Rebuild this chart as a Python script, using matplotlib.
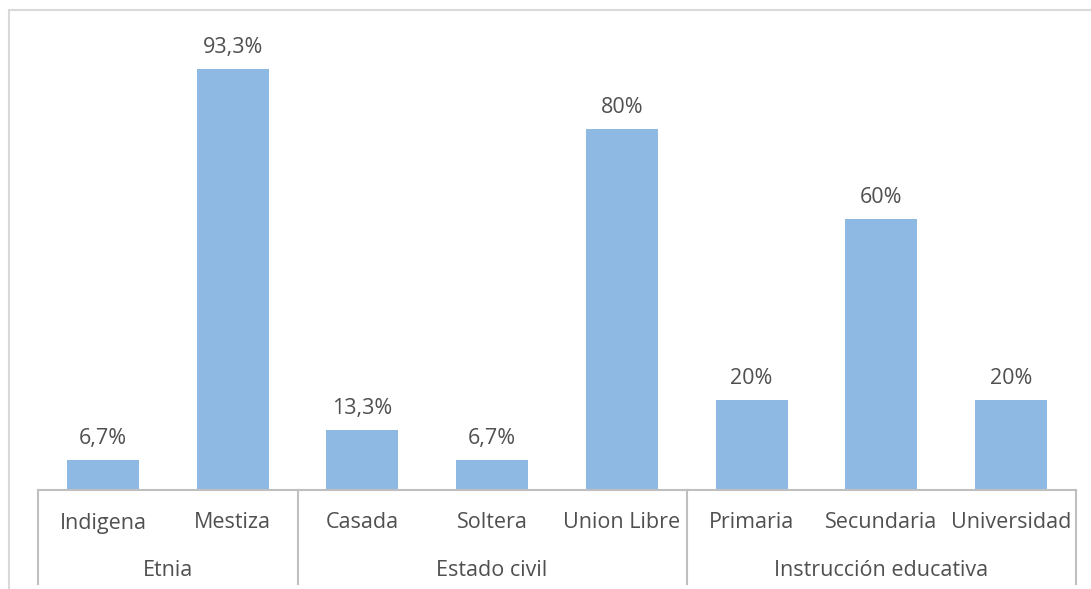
import matplotlib.pyplot as plt
from matplotlib.patches import Rectangle

# data
categories = ["Indigena", "Mestiza", "Casada", "Soltera", "Union Libre",
              "Primaria", "Secundaria", "Universidad"]
values = [6.7, 93.3, 13.3, 6.7, 80, 20, 60, 20]
groups = ["Etnia", "Estado civil", "Instrucción educativa"]
group_sizes = [2, 3, 3]

plt.rcParams["font.family"] = ["Open Sans", "DejaVu Sans"]
text_color = "#505050"
line_color = "#BFBFBF"
fs = 15.5

fig = plt.figure(figsize=(10.91, 5.89), dpi=100)
ax = fig.add_axes([38 / 1091, 1 - 490 / 589, (1076 - 38) / 1091, (490 - 39) / 589])

x = list(range(len(categories)))
bars = ax.bar(x, values, width=0.555, color="#8DB9E2")

for b, v in zip(bars, values):
    if v == int(v):
        lbl = f"{int(v)}%"
    else:
        lbl = f"{v:.1f}%".replace(".", ",")
    ax.annotate(lbl, (b.get_x() + b.get_width() / 2, v), xytext=(0, 15.5),
                textcoords="offset points", ha="center", va="center",
                fontsize=fs, color=text_color)

ax.set_xlim(-0.5, len(categories) - 0.5)
ax.set_ylim(0, 100)
ax.set_yticks([])
ax.set_xticks([])
for s in ["top", "right", "left"]:
    ax.spines[s].set_visible(False)
ax.spines["bottom"].set_color(line_color)
ax.spines["bottom"].set_linewidth(1.5)

# category and group labels below the axis
trans = ax.get_xaxis_transform()
for i, c in enumerate(categories):
    ax.text(i, -33 / 451, c, transform=trans, ha="center", va="center",
            fontsize=fs, color=text_color)

start = 0
edges = [-0.5]
for g, n in zip(groups, group_sizes):
    mid = start + (n - 1) / 2
    ax.text(mid, -80 / 451, g, transform=trans, ha="center", va="center",
            fontsize=fs, color=text_color)
    start += n
    edges.append(start - 0.5)

for e in edges:
    ax.plot([e, e], [0, -94 / 451], transform=trans, color=line_color,
            lw=1.5, clip_on=False)

# outer chart border
fig.patches.append(Rectangle((9 / 1091, -0.1), 1.2, 1 - 10 / 589 + 0.1,
                             transform=fig.transFigure, fill=False,
                             edgecolor="#D9D9D9", lw=1.5))

plt.savefig("out.png")
